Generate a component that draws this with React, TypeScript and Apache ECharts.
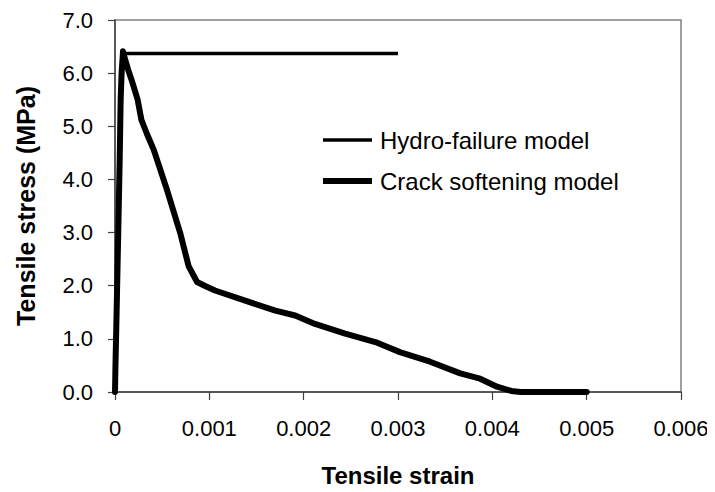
import React, { useEffect, useRef } from "react";
import * as echarts from "echarts";

const xTicks = [0, 0.001, 0.002, 0.003, 0.004, 0.005, 0.006];
const yTicks = [0, 1, 2, 3, 4, 5, 6, 7];

const hydroStrain = [0, 0.00003, 0.00006, 0.00008, 0.003];
const hydroStress = [0, 2.5, 5.9, 6.37, 6.37];

const crackStrain = [
  0, 0.000005, 0.00002, 0.00004, 0.00005, 0.00006, 0.00007, 0.000085, 0.0001,
  0.00014, 0.00018, 0.00024, 0.00028, 0.00034, 0.00041, 0.00055, 0.00069,
  0.00078, 0.00087, 0.00095, 0.00106, 0.00138, 0.0017, 0.00191, 0.00212,
  0.00244, 0.00276, 0.00302, 0.00334, 0.00366, 0.00387, 0.00405, 0.0042,
  0.0043, 0.005,
];
const crackStress = [
  0, 0.5, 1.75, 3.5, 4.4, 5.5, 6.0, 6.41, 6.3, 6.06, 5.85, 5.5, 5.12, 4.85,
  4.56, 3.81, 3.0, 2.37, 2.07, 2.0, 1.91, 1.72, 1.53, 1.44, 1.28, 1.1, 0.94,
  0.75, 0.57, 0.35, 0.25, 0.1, 0.02, 0, 0,
];

const seriesNames = ["Hydro-failure model", "Crack softening model"];
const xTitle = "Tensile strain";
const yTitle = "Tensile stress (MPa)";

const FONT = "'Liberation Sans', Arial, sans-serif";

export default function App() {
  const ref = useRef<HTMLDivElement>(null);
  useEffect(() => {
    if (!ref.current) return;
    const chart = echarts.init(ref.current, null, { renderer: "svg" });
    const zip = (xs: number[], ys: number[]) => xs.map((x, i) => [x, ys[i]]);
    chart.setOption({
      animation: false,
      backgroundColor: "#ffffff",
      grid: {
        left: 115,
        right: 34,
        top: 20,
        bottom: 98.5,
        show: true,
        borderColor: "#808080",
        borderWidth: 1.5,
      },
      xAxis: {
        type: "value",
        min: xTicks[0],
        max: xTicks[xTicks.length - 1],
        interval: 0.001,
        name: xTitle,
        nameLocation: "middle",
        nameGap: 71,
        nameTextStyle: {
          fontFamily: FONT,
          fontSize: 24,
          fontWeight: "bold",
          color: "#000",
        },
        axisLine: { show: true, lineStyle: { color: "#404040", width: 1.5 } },
        axisTick: {
          show: true,
          inside: false,
          length: 8,
          lineStyle: { color: "#404040", width: 1.2 },
        },
        splitLine: { show: false },
        axisLabel: {
          fontFamily: FONT,
          fontSize: 22,
          color: "#000",
          margin: 25,
          formatter: (v: number) => (v === 0 ? "0" : v.toFixed(3)),
        },
      },
      yAxis: {
        type: "value",
        min: yTicks[0],
        max: yTicks[yTicks.length - 1],
        interval: 1,
        name: yTitle,
        nameLocation: "middle",
        nameGap: 77,
        nameRotate: 90,
        nameTextStyle: {
          fontFamily: FONT,
          fontSize: 25,
          fontWeight: "bold",
          color: "#000",
        },
        axisLine: { show: true, lineStyle: { color: "#404040", width: 1.5 } },
        axisTick: {
          show: true,
          inside: false,
          length: 7,
          lineStyle: { color: "#404040", width: 1.2 },
        },
        splitLine: { show: false },
        axisLabel: {
          fontFamily: FONT,
          fontSize: 22,
          color: "#000",
          margin: 22,
          formatter: (v: number) => v.toFixed(1),
        },
      },
      series: [
        {
          name: seriesNames[0],
          type: "line",
          data: zip(hydroStrain, hydroStress),
          showSymbol: false,
          symbol: "none",
          lineStyle: { color: "#000", width: 3.5, join: "round" },
          z: 3,
        },
        {
          name: seriesNames[1],
          type: "line",
          data: zip(crackStrain, crackStress),
          showSymbol: false,
          symbol: "none",
          lineStyle: { color: "#000", width: 6, join: "round", cap: "round" },
          z: 4,
        },
      ],
      graphic: [
        {
          type: "line",
          shape: { x1: 323, y1: 140, x2: 372, y2: 140 },
          style: { stroke: "#000", lineWidth: 3.5 },
        },
        {
          type: "text",
          x: 380,
          y: 140,
          style: {
            text: seriesNames[0],
            fontFamily: FONT,
            fontSize: 24,
            fill: "#000",
            verticalAlign: "middle",
          },
        },
        {
          type: "line",
          shape: { x1: 323, y1: 181, x2: 372, y2: 181 },
          style: { stroke: "#000", lineWidth: 6 },
        },
        {
          type: "text",
          x: 380,
          y: 181,
          style: {
            text: seriesNames[1],
            fontFamily: FONT,
            fontSize: 24,
            fill: "#000",
            verticalAlign: "middle",
          },
        },
      ],
    });
    return () => chart.dispose();
  }, []);
  return <div ref={ref} style={{ width: 715, height: 492, margin: -8 }} />;
}
